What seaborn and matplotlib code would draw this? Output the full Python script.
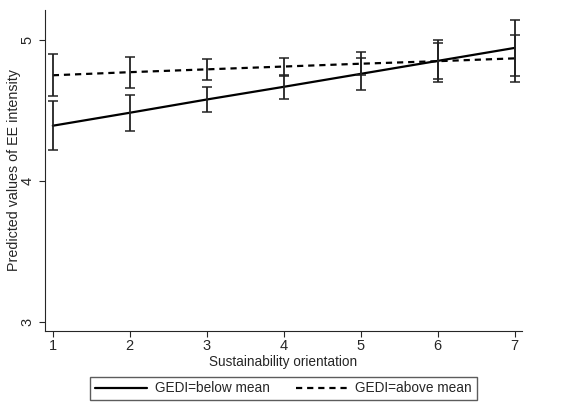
"""
Predicted EE intensity by sustainability orientation, split by GEDI
"""

import numpy as np
import pandas as pd
import seaborn as sns
import matplotlib.pyplot as plt

orientation = [1, 2, 3, 4, 5, 6, 7]
below_mean = [4.39, 4.482, 4.576, 4.666, 4.758, 4.85, 4.942]
below_ci = [0.175, 0.126, 0.089, 0.086, 0.112, 0.150, 0.199]
above_mean = [4.748, 4.770, 4.790, 4.810, 4.830, 4.848, 4.868]
above_ci = [0.150, 0.109, 0.074, 0.064, 0.083, 0.129, 0.165]

df = pd.DataFrame({
    "x": orientation * 2,
    "y": below_mean + above_mean,
    "ci": below_ci + above_ci,
    "group": ["GEDI=below mean"] * 7 + ["GEDI=above mean"] * 7,
})

sns.set_style("ticks")
plt.rcParams["font.family"] = ["Liberation Sans", "DejaVu Sans"]

fig = plt.figure(figsize=(5.67, 4.07), dpi=100)
ax = fig.add_axes([0.079, 0.187, 0.842, 0.788])

sns.lineplot(data=df, x="x", y="y", style="group", color="black",
             dashes={"GEDI=below mean": "", "GEDI=above mean": (2.8, 2.2)},
             linewidth=1.6, ax=ax, legend=False)

for g, sub in df.groupby("group"):
    ax.errorbar(sub["x"], sub["y"], yerr=sub["ci"], fmt="none",
                ecolor="#222222", elinewidth=1.3, capsize=3.5, capthick=1.1)

ax.set_xlim(0.896, 7.1)
ax.set_ylim(2.934, 5.21)
ax.set_xticks(orientation)
ax.set_yticks([3, 4, 5])
ax.tick_params(axis="y", labelrotation=90, length=4, labelsize=10.5)
ax.tick_params(axis="x", length=4, labelsize=10.5, pad=2)
for lab in ax.get_yticklabels():
    lab.set_verticalalignment("center")
ax.set_xlabel("Sustainability orientation", fontsize=9.8, labelpad=1)
ax.set_ylabel("Predicted values of EE intensity", fontsize=10.3)
ax.yaxis.set_label_coords(-0.05, 0.5)
sns.despine(ax=ax)

handles = [plt.Line2D([], [], color="black", lw=1.6),
           plt.Line2D([], [], color="black", lw=1.6, dashes=(2.8, 2.2))]
fig.legend(handles, ["GEDI=below mean", "GEDI=above mean"], loc="lower center",
           bbox_to_anchor=(0.5, 0.0), ncol=2, fontsize=9.8, frameon=True,
           fancybox=False, edgecolor="#333333", handlelength=3.8,
           handletextpad=0.6, columnspacing=1.9, borderpad=0.35)

fig.savefig("out.png", dpi=100)
plt.close(fig)
